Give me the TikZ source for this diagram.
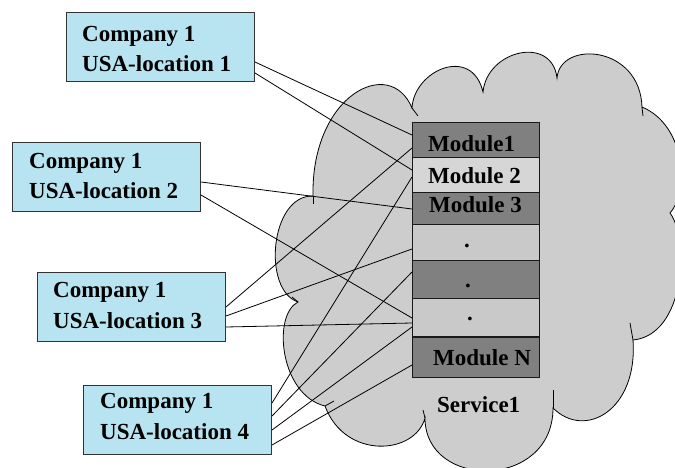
\documentclass[tikz,border=0pt]{standalone}
\usepackage{fontspec}
\setmainfont{Liberation Serif}
\usetikzlibrary{calc}
\definecolor{boxblue}{HTML}{B7E4F0}
\definecolor{cloudgray}{HTML}{CDCDCD}
\definecolor{darkrow}{HTML}{808080}
\definecolor{lightrow}{HTML}{D6D6D6}
\definecolor{dotrow}{HTML}{C9C9C9}
\begin{document}
\begin{tikzpicture}[x=1pt,y=-1pt,
  cloudline/.style={draw=black,line width=0.8pt},
  conn/.style={draw=black,line width=0.8pt},
  locbox/.style={draw=black!80,line width=1pt,fill=boxblue,minimum width=188pt,minimum height=69pt,inner sep=0pt,anchor=north west},
  boxtext/.style={anchor=base west,inner sep=0pt,font=\fontsize{23}{30}\selectfont\bfseries},
  modrow/.style={draw=black!90,line width=1.2pt,minimum width=127pt,inner sep=0pt,anchor=north west},
  modtext/.style={anchor=base west,inner sep=0pt,font=\fontsize{23}{28}\selectfont\bfseries},
  dottext/.style={anchor=base,inner sep=0pt,font=\fontsize{23}{28}\selectfont\bfseries}]
\useasboundingbox (0,0) rectangle (675,468);
\fill[white] (0,0) rectangle (675,468);
% cloud
\begin{scope}
\clip (0,0) rectangle (675,468);
\draw[cloudline,fill=cloudgray] (313,196) .. controls (311,95) and (390,55) .. (412,108)
 .. controls (414,70) and (472,45) .. (483,92)
 .. controls (487,50) and (552,35) .. (557,78)
 .. controls (560,40) and (640,45) .. (642,107)
 .. controls (685,125) and (690,190) .. (670,213)
 .. controls (690,240) and (685,335) .. (633,340)
 .. controls (638,410) and (585,440) .. (553,408)
 .. controls (553,490) and (425,490) .. (425,418)
 .. controls (415,455) and (345,460) .. (325,406)
 .. controls (280,395) and (272,315) .. (298,302)
 .. controls (262,290) and (270,195) .. (313,196) -- cycle;
\draw[cloudline] (313,196) -- (313,204);
\draw[cloudline] (412,108) -- (418,116);
\draw[cloudline] (642,107) -- (643,116);
\draw[cloudline] (633,340) -- (630,323);
\draw[cloudline] (553,408) -- (553,390);
\draw[cloudline] (425,418) -- (423,410);
\draw[cloudline] (325,406) -- (334,401);
\draw[cloudline] (298,302) -- (292,297);
\end{scope}
% boxes
\node[locbox] (b1) at (66,12) {};
\node[locbox] (b2) at (12,142) {};
\node[locbox] (b3) at (37,272) {};
\node[locbox] (b4) at (83,385) {};
\node[boxtext] (b1a) at (82,42) {Company 1};
\node[boxtext] (b1b) at (82,72) {USA-location 1};
\node[boxtext] (b2a) at (29,168) {Company 1};
\node[boxtext] (b2b) at (29,199) {USA-location 2};
\node[boxtext] (b3a) at (53,297) {Company 1};
\node[boxtext] (b3b) at (53,328) {USA-location 3};
\node[boxtext] (b4a) at (100,408) {Company 1};
\node[boxtext] (b4b) at (100,439) {USA-location 4};
% module rows (positions only, drawn later)
\path (412,122) coordinate (m1) (412,157) coordinate (m2) (412,192) coordinate (m3)
      (412,224) coordinate (m4) (412,260) coordinate (m5) (412,298) coordinate (m6)
      (412,337) coordinate (m7);
% connectors
\draw[conn] ($(b1.north east)+(0,50)$) -- ($(m1)+(0,13)$);
\draw[conn] ($(b1.north east)+(0,61)$) -- ($(m2)+(0,13)$);
\draw[conn] ($(b2.north east)+(0,40)$) -- ($(m3)+(0,17)$);
\draw[conn] ($(b2.north east)+(0,53)$) -- ($(m6)+(0,20)$);
\draw[conn] ($(b3.north east)+(0,35)$) -- ($(m1)+(0,26)$);
\draw[conn] ($(b3.north east)+(0,44)$) -- ($(m4)+(0,25)$);
\draw[conn] ($(b3.north east)+(0,55)$) -- ($(m6)+(0,25)$);
\draw[conn] ($(b4.north east)+(0,18)$) -- ($(m2)+(0,20)$);
\draw[conn] ($(b4.north east)+(0,31)$) -- ($(m5)+(0,12)$);
\draw[conn] ($(b4.north east)+(0,45)$) -- ($(m6)+(0,29)$);
\draw[conn] ($(b4.north east)+(0,60)$) -- ($(m7)+(0,28)$);
% module stack
\node[modrow,fill=darkrow,minimum height=35pt] (r1) at (m1) {};
\node[modrow,fill=lightrow,minimum height=35pt] (r2) at (m2) {};
\node[modrow,fill=darkrow,minimum height=32pt] (r3) at (m3) {};
\node[modrow,fill=dotrow,minimum height=36pt] (r4) at (m4) {};
\node[modrow,fill=darkrow,minimum height=38pt] (r5) at (m5) {};
\node[modrow,fill=dotrow,minimum height=39pt] (r6) at (m6) {};
\node[modrow,fill=darkrow,minimum height=40pt,line width=1.4pt] (r7) at (m7) {};
\draw[line width=2.2pt,black!90] (r7.north west) -- (r7.north east);
\node[modtext] (t1) at (428,152) {Module1};
\node[modtext] (t2) at (428,184) {Module 2};
\node[modtext] (t3) at (429,212) {Module 3};
\node[dottext] (t4) at (467,247) {.};
\node[dottext] (t5) at (468,287) {.};
\node[dottext] (t6) at (470,320) {.};
\node[modtext] (t7) at (433,365) {Module N};
\node[modtext] (svc) at (437,412) {Service1};
\end{tikzpicture}
\end{document}
